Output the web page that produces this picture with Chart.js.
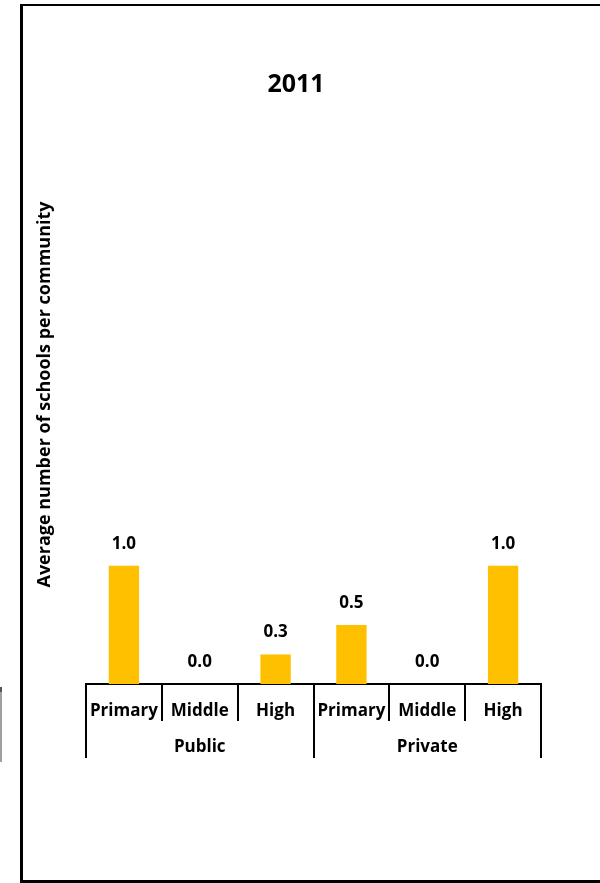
<!DOCTYPE html>
<html>
<head>
<meta charset="utf-8">
<script src="https://cdn.jsdelivr.net/npm/chart.js@4"></script>
<style>
  html, body { margin: 0; padding: 0; background: #fff; }
  #wrap { position: relative; width: 600px; height: 883px; overflow: hidden; }
  #frame {
    position: absolute; left: 20px; top: 4px; width: 620px; height: 879px;
    box-sizing: border-box; border: 3px solid #000; border-top-width: 2px;
  }
  #edge { position: absolute; left: 0; top: 687px; width: 2px; height: 75px; background: #a0a0a0; border-top: 5px solid #555; box-sizing: border-box; }
  canvas { position: absolute; left: 0; top: 0; }
</style>
</head>
<body>
<div id="wrap">
  <div id="frame"></div>
  <div id="edge"></div>
  <canvas id="schoolsChart" width="600" height="883"></canvas>
</div>
<script>
var levels = ['Primary', 'Middle', 'High', 'Primary', 'Middle', 'High'];
var sectors = ['Public', 'Private'];
var schoolsPerCommunity = [1.0, 0.0, 0.25, 0.5, 0.0, 1.0];

var FONT = "'Open Sans', sans-serif";

// value labels above each bar
var barValues = {
    id: 'barValues',
    afterDatasetsDraw: function(chart) {
        var ctx = chart.ctx;
        var meta = chart.getDatasetMeta(0);
        ctx.save();
        ctx.font = 'bold 17px ' + FONT;
        ctx.fillStyle = '#000';
        ctx.textAlign = 'center';
        ctx.textBaseline = 'middle';
        meta.data.forEach(function(bar, i) {
            var v = chart.data.datasets[0].data[i];
            ctx.fillText(v.toFixed(1), bar.x, bar.y - 22);
        });
        ctx.restore();
    }
};

var ctx = document.getElementById('schoolsChart').getContext('2d');

var chart = new Chart(ctx, {
    type: 'bar',
    data: {
        labels: levels,
        datasets: [{
            label: '2011',
            data: schoolsPerCommunity,
            backgroundColor: '#FFC000',
            borderWidth: 0,
            barPercentage: 0.4,
            categoryPercentage: 1.0
        }]
    },
    options: {
        responsive: false,
        animation: false,
        layout: { padding: { left: 0, right: 8, top: 0, bottom: 125 } },
        scales: {
            x: {
                offset: true,
                grid: {
                    offset: true,
                    drawOnChartArea: false,
                    drawTicks: true,
                    tickLength: 37,
                    color: '#000',
                    lineWidth: 2
                },
                border: { display: true, color: '#000', width: 2 },
                ticks: {
                    color: '#000',
                    padding: -20,
                    maxRotation: 0,
                    autoSkip: false,
                    font: { family: FONT, size: 17, weight: 'bold' }
                },
                afterFit: function(scale) { scale.height = 37; }
            },
            x2: {
                type: 'category',
                position: 'bottom',
                labels: sectors,
                offset: true,
                grid: {
                    offset: true,
                    drawOnChartArea: false,
                    drawTicks: true,
                    tickLength: 37,
                    color: '#000',
                    lineWidth: 2
                },
                border: { display: false },
                ticks: {
                    color: '#000',
                    padding: -21,
                    maxRotation: 0,
                    font: { family: FONT, size: 17, weight: 'bold' }
                },
                afterFit: function(scale) { scale.height = 37; }
            },
            y: {
                min: 0,
                max: 4.9,
                grid: { display: false, drawTicks: false },
                border: { display: false },
                ticks: { display: false },
                title: {
                    display: true,
                    text: 'Average number of schools per community',
                    color: '#000',
                    padding: { top: 34, bottom: 0 },
                    font: { family: FONT, size: 18, weight: 'bold' }
                },
                afterFit: function(scale) { scale.width = 86; }
            },
            yRight: {
                type: 'linear',
                position: 'right',
                grid: { display: false, drawTicks: false },
                border: { display: false },
                ticks: { display: false },
                afterFit: function(scale) { scale.width = 51; }
            }
        },
        plugins: {
            legend: { display: false },
            tooltip: { enabled: false },
            title: {
                display: true,
                text: '2011',
                color: '#000',
                padding: { top: 70, bottom: 5 },
                font: { family: FONT, size: 25, weight: 'bold' }
            }
        }
    },
    plugins: [barValues]
});
</script>
</body>
</html>
